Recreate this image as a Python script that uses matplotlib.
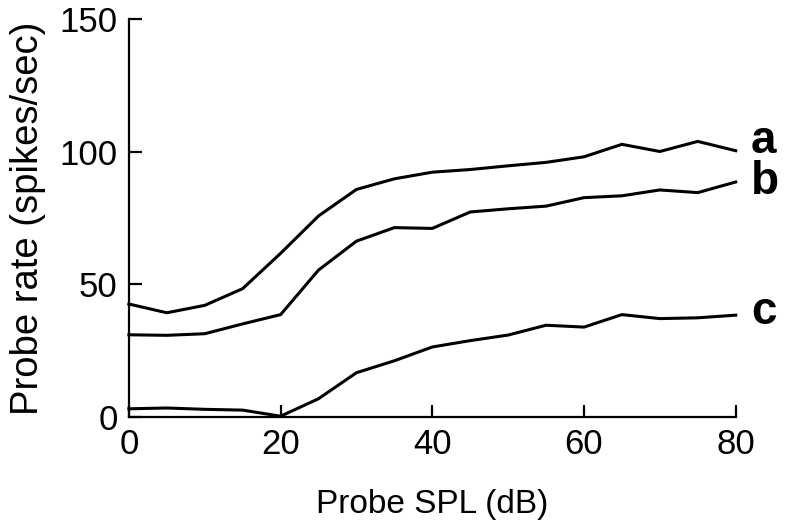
import matplotlib
matplotlib.use("Agg")
import matplotlib.pyplot as plt

spl = [0, 5, 10, 15, 20, 25, 30, 35, 40, 45, 50, 55, 60, 65, 70, 75, 80]
rate_a = [42.6, 39.3, 42.1, 48.4, 61.7, 75.8, 85.8, 89.8, 92.3, 93.3, 94.7, 96.0, 98.1, 102.8, 100.1, 103.9, 100.4]
rate_b = [31.0, 30.8, 31.4, 35.1, 38.6, 55.4, 66.3, 71.4, 71.1, 77.3, 78.5, 79.5, 82.7, 83.4, 85.6, 84.6, 88.6]
rate_c = [3.1, 3.4, 2.9, 2.6, 0.3, 6.9, 16.7, 21.2, 26.4, 28.8, 30.9, 34.6, 33.9, 38.6, 37.1, 37.4, 38.4]
labels = ["a", "b", "c"]
xticks = [0, 20, 40, 60, 80]
yticks = [0, 50, 100, 150]

plt.rcParams['font.family'] = ['Liberation Sans', 'DejaVu Sans']

fig = plt.figure(figsize=(7.86, 5.27), dpi=100)
ax = fig.add_axes([0.164, 0.2087, 0.772, 0.755])

label_offsets = [(11, 7), (11, 0), (11, 2)]  # points
for ys, lab, off in zip([rate_a, rate_b, rate_c], labels, label_offsets):
    ax.plot(spl, ys, color='black', lw=2.2, clip_on=False, solid_joinstyle='miter')
    ax.annotate(lab, xy=(spl[-1], ys[-1]), xytext=off, textcoords='offset points',
                fontsize=33, fontweight='bold', ha='left', va='center',
                annotation_clip=False)

ax.set_xlim(0, 80)
ax.set_ylim(0, 150)
ax.set_xticks(xticks)
ax.set_yticks(yticks)
for s in ['top', 'right']:
    ax.spines[s].set_visible(False)
for s in ['left', 'bottom']:
    ax.spines[s].set_linewidth(1.6)
ax.tick_params(direction='in', length=9, width=1.6, labelsize=25, pad=8)
ax.set_xlabel('Probe SPL (dB)', fontsize=24, labelpad=20)
ax.set_ylabel('Probe rate (spikes/sec)', fontsize=27.5, labelpad=10)

fig.savefig('out.png', dpi=100)
